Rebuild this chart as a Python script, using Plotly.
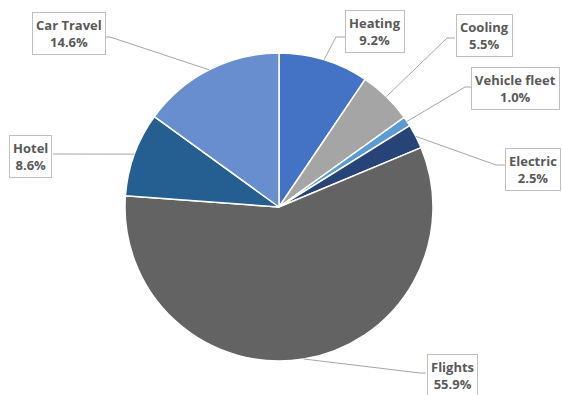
import math
import plotly.graph_objects as go

labels = ["Heating", "Cooling", "Vehicle fleet", "Electric", "Flights", "Hotel", "Car Travel"]
values = [9.2, 5.5, 1.0, 2.5, 55.9, 8.6, 14.6]
colors = ["#4472C4", "#A5A5A5", "#5B9BD5", "#264478", "#636363", "#255E91", "#698ED0"]

W, H = 562, 395
CX, CY, R = 279, 207, 154  # pie centre / radius in pixels

# label layout (pixels): anchor x, anchor y, xanchor, elbow point, box-side point
label_layout = {
    "Heating":       (375, 32, "center", (336, 37), (345, 37)),
    "Cooling":       (484, 35, "center", (447, 38), (455, 38)),
    "Vehicle fleet": (471, 89, "left",   (465, 87), (471, 87)),
    "Electric":      (505, 169, "left",  (496, 165), (505, 165)),
    "Flights":       (452, 375, "center", (420, 373), (426, 373)),
    "Hotel":         (30, 156, "center", (53, 154), (53, 154)),
    "Car Travel":    (69, 33, "center", (110, 37), (106, 37)),
}

def px(x):
    return x / W

def py(y):
    return 1 - y / H

fig = go.Figure(go.Pie(
    labels=labels, values=values, sort=False, direction="clockwise", rotation=0,
    marker=dict(colors=colors, line=dict(color="white", width=1.5)),
    textinfo="none", hoverinfo="label+percent", showlegend=False,
    domain=dict(x=[px(CX - R), px(CX + R)], y=[py(CY + R), py(CY - R)]),
))

total = sum(values)
cum = 0.0
annotations = []
shapes = []
for lab, v in zip(labels, values):
    mid = (cum + v / 2) / total
    cum += v
    ang = 2 * math.pi * mid
    ex = CX + R * math.sin(ang)
    ey = CY - R * math.cos(ang)
    ax_, ay_, xa, elbow, side = label_layout[lab]
    shapes.append(dict(
        type="path", xref="paper", yref="paper",
        path=f"M {px(ex)},{py(ey)} L {px(elbow[0])},{py(elbow[1])} L {px(side[0])},{py(side[1])}",
        line=dict(color="#A6A6A6", width=1),
    ))
    annotations.append(dict(
        x=px(ax_), y=py(ay_), xref="paper", yref="paper", xanchor=xa, yanchor="middle",
        text=f"<b>{lab}</b><br><b>{v:.1f}%</b>", showarrow=False,
        font=dict(family="Open Sans", size=13, color="#595959"),
        bgcolor="white", bordercolor="#BFBFBF", borderwidth=1, borderpad=3,
        align="center",
    ))

fig.update_layout(
    width=W, height=H, margin=dict(l=0, r=0, t=0, b=0),
    paper_bgcolor="white", plot_bgcolor="white",
    annotations=annotations, shapes=shapes,
)

fig.write_html("out.html")
